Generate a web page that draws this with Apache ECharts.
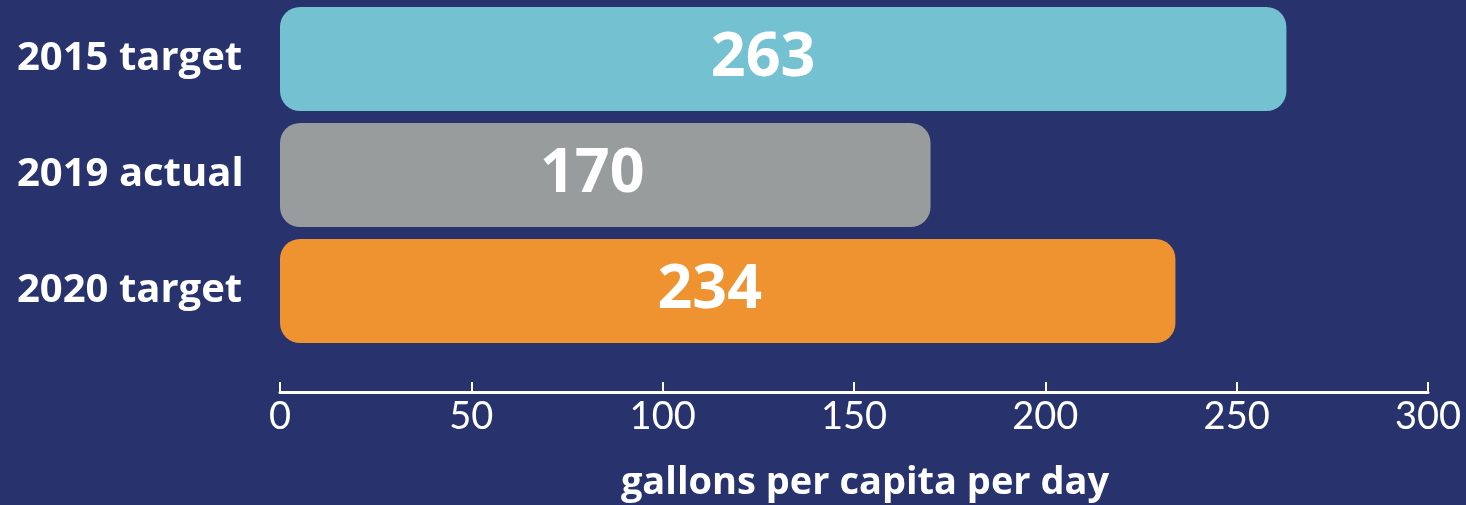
<!DOCTYPE html>
<html>
<head>
<meta charset="utf-8">
<script src="https://cdn.jsdelivr.net/npm/echarts@6/dist/echarts.min.js"></script>
<style>
html,body{margin:0;padding:0;background:#28336E;}
#c{width:1466px;height:505px;}
</style>
</head>
<body>
<div id="c"></div>
<script>
const categories = ['2015 target', '2019 actual', '2020 target'];
const values = [263, 170, 234];
const barColors = ['#74C1D1', '#989C9C', '#EE9330'];
const xTicks = [0, 50, 100, 150, 200, 250, 300];
const axisTitle = 'gallons per capita per day';

const chart = echarts.init(document.getElementById('c'));
chart.setOption({
  backgroundColor: '#28336E',
  animation: false,
  grid: { left: 280, right: 38, top: 1, height: 348, containLabel: false, outerBoundsMode: 'none' },
  xAxis: {
    type: 'value',
    min: xTicks[0],
    max: xTicks[xTicks.length - 1],
    interval: 50,
    offset: 43,
    splitLine: { show: false },
    axisLine: { show: true, lineStyle: { color: '#ffffff', width: 3 } },
    axisTick: { show: true, inside: true, length: 10, lineStyle: { color: '#ffffff', width: 2 } },
    axisLabel: { color: '#ffffff', fontSize: 38, fontFamily: 'Lato', fontWeight: 400, margin: 6 },
    name: axisTitle,
    nameLocation: 'middle',
    nameGap: 72,
    nameTextStyle: { color: '#ffffff', fontSize: 38, fontWeight: 'bold', fontFamily: 'Open Sans', padding: [0, 0, 0, 22] }
  },
  yAxis: {
    type: 'category',
    inverse: true,
    data: categories,
    axisLine: { show: false },
    axisTick: { show: false },
    axisLabel: { color: '#ffffff', fontSize: 40, fontWeight: 'bold', fontFamily: 'Open Sans', align: 'left', margin: 263 }
  },
  series: [{
    type: 'bar',
    barWidth: 104,
    data: values.map((v, i) => ({ value: v, itemStyle: { color: barColors[i] } })),
    itemStyle: { borderRadius: 20 },
    label: {
      show: true,
      position: ['48%', '50%'],
      align: 'center',
      verticalAlign: 'middle',
      color: '#ffffff',
      fontSize: 61,
      fontWeight: 'bold',
      fontFamily: 'Open Sans'
    }
  }]
});
</script>
</body>
</html>
